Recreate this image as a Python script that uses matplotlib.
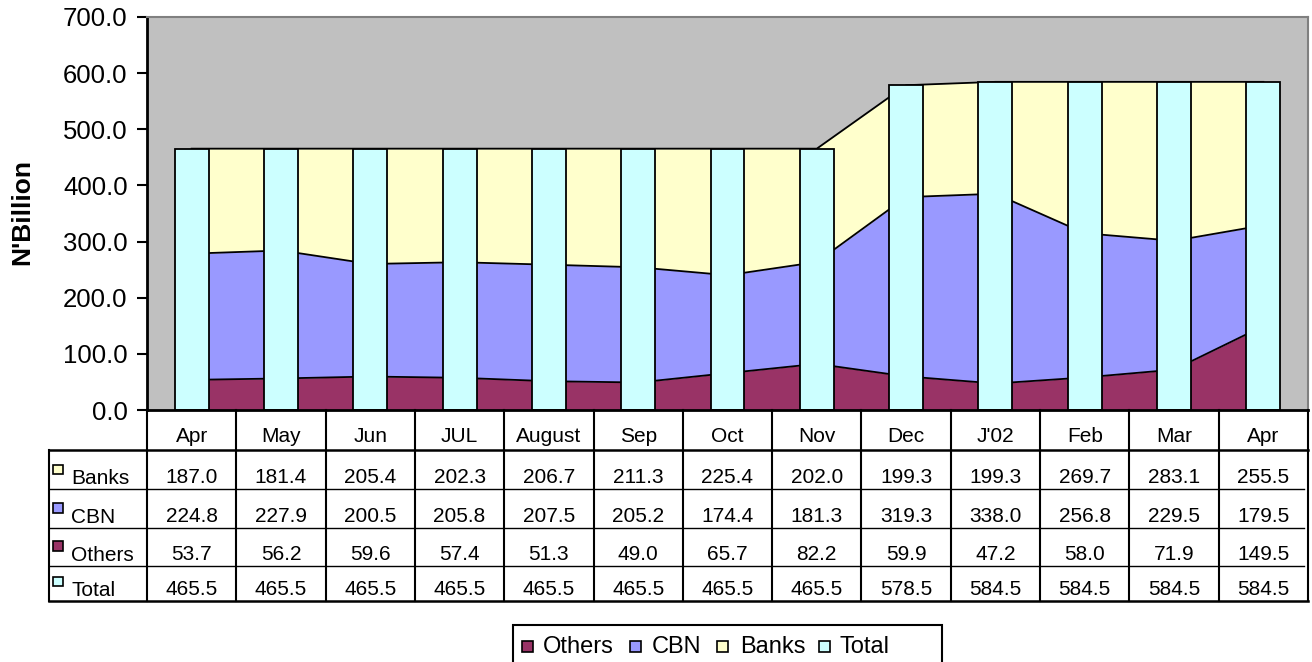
import matplotlib
matplotlib.use("Agg")
import matplotlib.pyplot as plt
from matplotlib.patches import Rectangle
import numpy as np

plt.rcParams['font.family'] = ['Liberation Sans', 'DejaVu Sans']

months = ["Apr", "May", "Jun", "JUL", "August", "Sep", "Oct", "Nov", "Dec", "J'02", "Feb", "Mar", "Apr"]
banks = [187.0, 181.4, 205.4, 202.3, 206.7, 211.3, 225.4, 202.0, 199.3, 199.3, 269.7, 283.1, 255.5]
cbn = [224.8, 227.9, 200.5, 205.8, 207.5, 205.2, 174.4, 181.3, 319.3, 338.0, 256.8, 229.5, 179.5]
others = [53.7, 56.2, 59.6, 57.4, 51.3, 49.0, 65.7, 82.2, 59.9, 47.2, 58.0, 71.9, 149.5]
total = [465.5, 465.5, 465.5, 465.5, 465.5, 465.5, 465.5, 465.5, 578.5, 584.5, 584.5, 584.5, 584.5]

c_others = '#993366'
c_cbn = '#9999FF'
c_banks = '#FFFFCC'
c_total = '#CCFFFF'

W, H = 1312, 662
fig = plt.figure(figsize=(W / 100, H / 100), dpi=100)

def fx(p):
    return p / W

def fy(p):
    return 1 - p / H

# plot area in pixels
L, R, T, B = 147, 1308, 17, 410
ax = fig.add_axes([fx(L), fy(B), fx(R - L), (B - T) / H])
ax.set_facecolor('#C0C0C0')

x = np.arange(len(months))
s1 = np.array(others)
s2 = s1 + np.array(cbn)
s3 = s2 + np.array(banks)

ax.fill_between(x, 0, s1, color=c_others, lw=0, zorder=1)
ax.fill_between(x, s1, s2, color=c_cbn, lw=0, zorder=1)
ax.fill_between(x, s2, s3, color=c_banks, lw=0, zorder=1)
for s in (s1, s2, s3):
    ax.plot(x, s, color='black', lw=1.3, zorder=2)

ax.bar(x, total, width=0.38, color=c_total, edgecolor='black', lw=1.3, zorder=3)

ax.set_xlim(-0.5, len(months) - 0.5)
ax.set_ylim(0, 700)
ax.set_yticks(np.arange(0, 701, 100))
ax.set_yticklabels(['%.1f' % v for v in np.arange(0, 701, 100)])
ax.tick_params(axis='y', direction='out', length=7, width=1.5, labelsize=18.5, pad=7)
ax.set_xticks([])
ax.spines['left'].set_linewidth(2)
ax.spines['bottom'].set_linewidth(2)
ax.spines['bottom'].set_zorder(5)
ax.spines['top'].set_color('#808080')
ax.spines['right'].set_color('#808080')
ax.spines['top'].set_linewidth(1.5)
ax.spines['right'].set_linewidth(1.5)

fig.text(fx(22), fy(212), "N'Billion", rotation=90, ha='center', va='center',
         fontsize=19, fontweight='bold')

# data table under the plot, same category scale as the chart
TL, TB = 49, 601
cw = (R - L) / len(months)
xl = -0.5 - (L - TL) / cw
tax = fig.add_axes([fx(TL), fy(TB), fx(R - TL), (TB - B) / H])
tax.set_xlim(xl, len(months) - 0.5)
tax.set_ylim(TB - B, 0)
tax.axis('off')

rows = [0, 40, 79, 117.5, 155.5, 191]
for k in range(len(months) + 1):
    tax.plot([k - 0.5, k - 0.5], [0, rows[-1]], color='black', lw=1.5, clip_on=False)
tax.plot([xl, xl], [rows[1], rows[-1]], color='black', lw=1.5, clip_on=False)
tax.plot([xl, len(months) - 0.5], [rows[1], rows[1]], color='black', lw=1.8, clip_on=False)
for r in rows[2:5]:
    tax.plot([xl, len(months) - 0.55], [r, r], color='black', lw=1.0, clip_on=False)
tax.plot([xl, len(months) - 0.5], [rows[-1], rows[-1]], color='black', lw=1.8, clip_on=False)

for i, m in enumerate(months):
    tax.text(i, 26, m, ha='center', va='center', fontsize=15)

table_rows = [("Banks", banks, c_banks), ("CBN", cbn, c_cbn),
              ("Others", others, c_others), ("Total", total, c_total)]
for j, (name, vals, col) in enumerate(table_rows):
    yc = rows[j + 2] - 11.5
    for i, v in enumerate(vals):
        tax.text(i, yc, '%.1f' % v, ha='center', va='center', fontsize=15)
    tax.text(xl + 22 / cw, yc + 1.5, name, ha='left', va='center', fontsize=15)
    tax.add_patch(Rectangle((xl + 4 / cw, yc - 13), 10 / cw, 9.5, facecolor=col,
                            edgecolor='black', lw=1.2, clip_on=False))

# legend box at the bottom (runs off the image edge)
fig.patches.append(Rectangle((fx(513), fy(675)), fx(942 - 513), (675 - 625) / H,
                             transform=fig.transFigure, facecolor='white',
                             edgecolor='black', lw=1.5, figure=fig))
legend_items = [("Others", c_others, 522, 543), ("CBN", c_cbn, 630, 652),
                ("Banks", c_banks, 717, 740), ("Total", c_total, 819, 840)]
for name, col, sx, tx in legend_items:
    fig.patches.append(Rectangle((fx(sx), fy(652)), fx(11), 11 / H,
                                 transform=fig.transFigure, facecolor=col,
                                 edgecolor='black', lw=1.2, figure=fig))
    fig.text(fx(tx), fy(647), name, ha='left', va='center', fontsize=17)

plt.savefig('out.png', dpi=100)
